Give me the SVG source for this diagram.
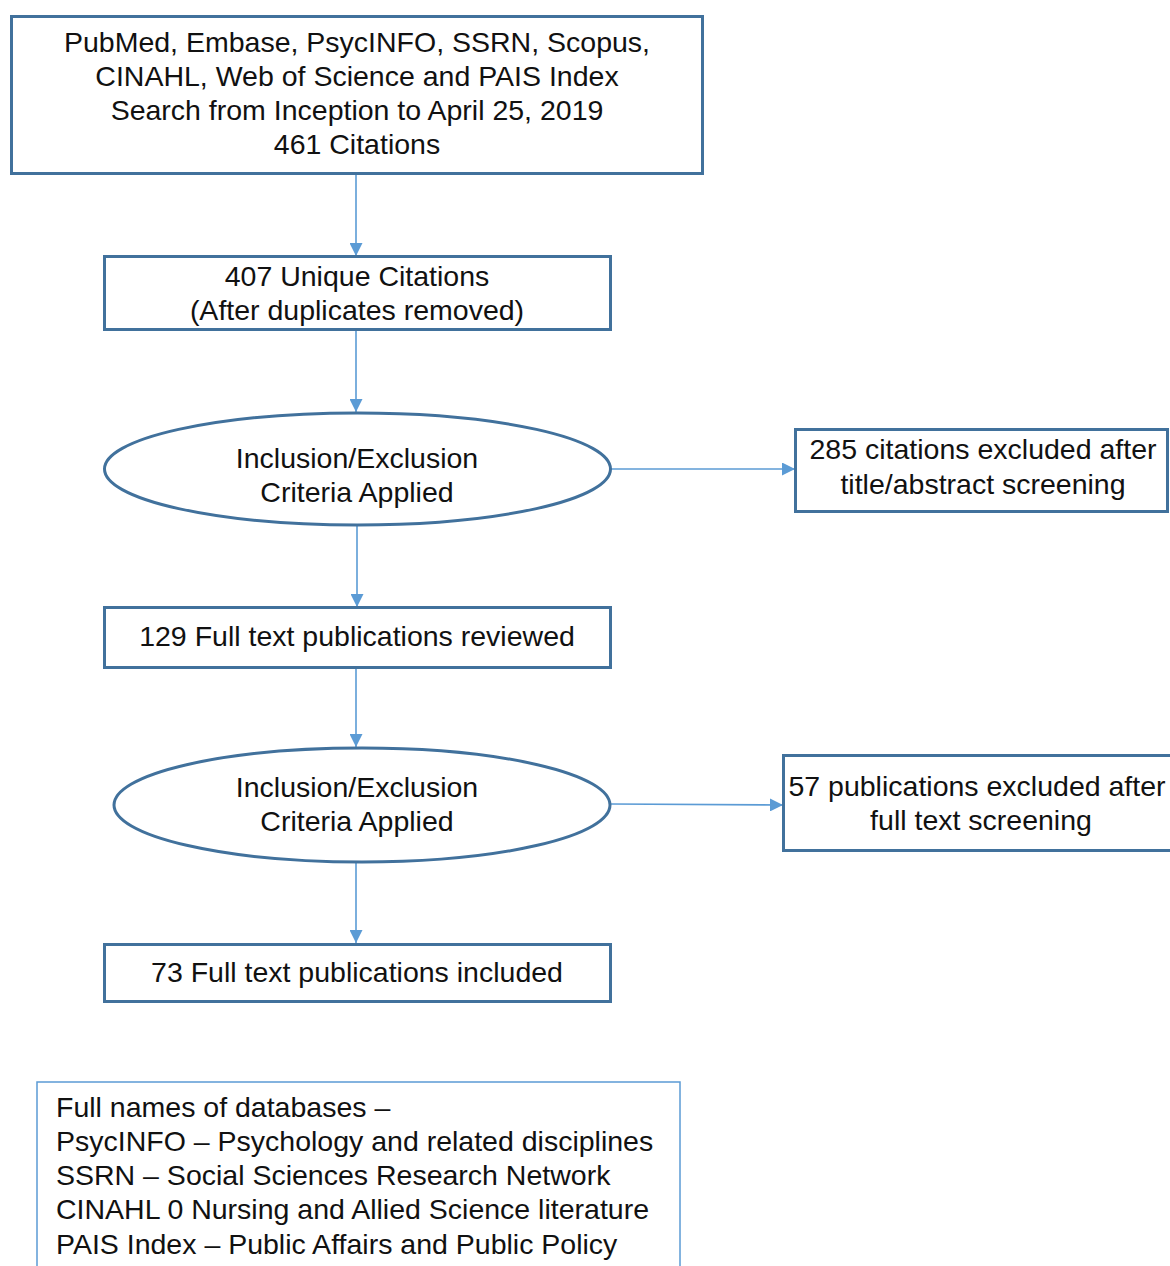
<svg xmlns="http://www.w3.org/2000/svg" width="1170" height="1266" viewBox="0 0 1170 1266">
<defs>
<marker id="ah" viewBox="0 0 10 10" refX="10" refY="5" markerWidth="13" markerHeight="13" markerUnits="userSpaceOnUse" orient="auto">
<path d="M0,0 L10,5 L0,10 z" fill="#5B9BD5"/>
</marker>
<style>
.box{fill:#fff;stroke:#41719C;stroke-width:3}
.note{fill:#fff;stroke:#5B9BD5;stroke-width:1.5}
.t{font-family:"Liberation Sans",Arial,sans-serif;font-size:28.5px;fill:#111;text-anchor:middle}
.l{font-family:"Liberation Sans",Arial,sans-serif;font-size:28.5px;fill:#111}
.c{stroke:#5B9BD5;stroke-width:1.6;fill:none;marker-end:url(#ah)}
</style>
</defs>
<rect width="1170" height="1266" fill="#fff"/>
<g id="connectors">
<line class="c" x1="356" y1="174" x2="356" y2="256"/>
<line class="c" x1="356" y1="330" x2="356" y2="412"/>
<line class="c" x1="357" y1="525" x2="357" y2="607"/>
<line class="c" x1="356" y1="668" x2="356" y2="747"/>
<line class="c" x1="356" y1="862" x2="356" y2="943"/>
<line class="c" x1="611" y1="469" x2="795" y2="469"/>
<line class="c" x1="611" y1="804" x2="783" y2="805"/>
</g>
<g id="n1">
<rect class="box" x="11.5" y="16.5" width="691" height="157"/>
<text class="t" x="357" y="52">PubMed, Embase, PsycINFO, SSRN, Scopus,</text>
<text class="t" x="357" y="86">CINAHL, Web of Science and PAIS Index</text>
<text class="t" x="357" y="120">Search from Inception to April 25, 2019</text>
<text class="t" x="357" y="154">461 Citations</text>
</g>
<g id="n2">
<rect class="box" x="104.5" y="256.5" width="506" height="73"/>
<text class="t" x="357" y="286">407 Unique Citations</text>
<text class="t" x="357" y="320">(After duplicates removed)</text>
</g>
<g id="n3">
<ellipse class="box" cx="357.5" cy="469" rx="253" ry="56"/>
<text class="t" x="357" y="468">Inclusion/Exclusion</text>
<text class="t" x="357" y="502">Criteria Applied</text>
</g>
<g id="n4">
<rect class="box" x="795.5" y="429.5" width="372" height="82"/>
<text class="t" x="983" y="459">285 citations excluded after</text>
<text class="t" x="983" y="494">title/abstract screening</text>
</g>
<g id="n5">
<rect class="box" x="104.5" y="607.5" width="506" height="60"/>
<text class="t" x="357" y="646">129 Full text publications reviewed</text>
</g>
<g id="n6">
<ellipse class="box" cx="362" cy="805" rx="248" ry="57"/>
<text class="t" x="357" y="797">Inclusion/Exclusion</text>
<text class="t" x="357" y="831">Criteria Applied</text>
</g>
<g id="n7">
<rect class="box" x="783.5" y="755.5" width="392" height="95"/>
<text class="t" x="977" y="796">57 publications excluded after</text>
<text class="t" x="981" y="830">full text screening</text>
</g>
<g id="n8">
<rect class="box" x="104.5" y="944.5" width="506" height="57"/>
<text class="t" x="357" y="982">73 Full text publications included</text>
</g>
<g id="n9">
<rect class="note" x="37" y="1082" width="643" height="200"/>
<text class="l" x="56" y="1117">Full names of databases –</text>
<text class="l" x="56" y="1151">PsycINFO – Psychology and related disciplines</text>
<text class="l" x="56" y="1185">SSRN – Social Sciences Research Network</text>
<text class="l" x="56" y="1219">CINAHL 0 Nursing and Allied Science literature</text>
<text class="l" x="56" y="1254">PAIS Index – Public Affairs and Public Policy</text>
</g>
</svg>
